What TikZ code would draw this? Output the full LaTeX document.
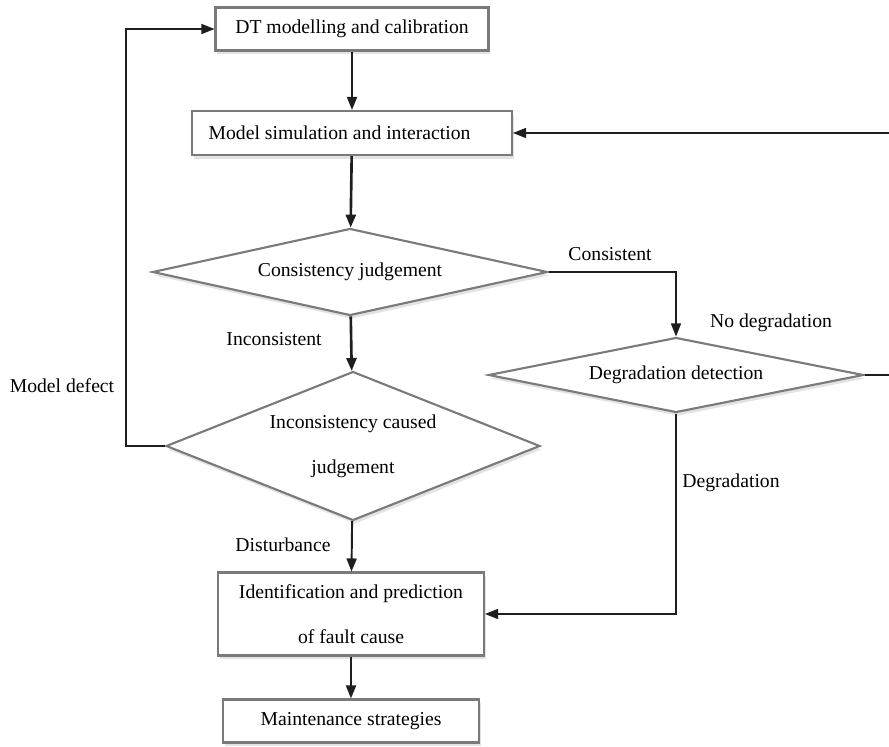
\documentclass[tikz,border=0pt]{standalone}
\usepackage{fontspec}
\setmainfont{Liberation Serif}
\usetikzlibrary{arrows.meta,shapes.geometric,shadows}
\definecolor{EdgeClr}{RGB}{122,122,122}
\definecolor{LineClr}{RGB}{30,30,30}

\tikzset{
  flowbox/.style={draw=EdgeClr,line width=1.2pt,fill=white,rectangle,inner sep=0pt,
    font=\fontsize{11.2}{25.5}\selectfont,align=center,
    drop shadow={opacity=0.22,shadow xshift=1pt,shadow yshift=-2pt}},
  judge/.style={flowbox,diamond},
  flowline/.style={draw=LineClr,line width=0.8pt,-{Triangle[length=2.6mm,width=2mm]}},
  flowlabel/.style={font=\fontsize{11.2}{13}\selectfont,inner sep=0pt}
}

\begin{document}
\begin{tikzpicture}[x=0.02cm,y=-0.02cm]
\useasboundingbox[fill=white] (0,0) rectangle (889,747);

% boxes
\node[flowbox,minimum width=5.46cm,minimum height=0.86cm] (dtm) at (352,29) {DT modelling and calibration};
\node[flowbox,minimum width=6.4cm,minimum height=0.88cm] (sim) at (352,133) {Model simulation and interaction\hspace*{0.5cm}};
\node[flowbox,minimum width=5.32cm,minimum height=1.66cm] (ident) at (351,614) {Identification and prediction\\of fault cause};
\node[flowbox,minimum width=5.12cm,minimum height=0.86cm] (maint) at (351,721) {Maintenance strategies};

% judgements
\node[judge,aspect=4.54,minimum width=7.9cm,minimum height=1.74cm] (cons) at (350,272) {Consistency judgement};
\node[judge,aspect=2.51,minimum width=7.48cm,minimum height=2.98cm] (inc) at (353,446) {Inconsistency caused\\judgement};
\node[judge,aspect=5,minimum width=7.5cm,minimum height=1.5cm] (deg) at (676,375) {Degradation detection};

% loop points
\coordinate (back) at (126,446);
\coordinate (ret) at (893,375);

% connectors
\draw[flowline,line width=1.1pt] (dtm) -- (sim);
\draw[flowline,line width=1.5pt] (sim) -- (cons);
\draw[flowline,line width=1.5pt] (cons) -- (inc);
\draw[flowline] (cons.east) -| (deg.north);
\draw[flowline] (deg.east) -- (ret) |- (sim.east);
\draw[flowline] (deg.south) |- (ident.east);
\draw[flowline] (inc.west) -- (back) |- (dtm.west);
\draw[flowline,line width=1.1pt] (inc) -- (ident);
\draw[flowline,line width=1.1pt] (ident) -- (maint);

% labels
\node[flowlabel] (lcons) at (610,254) {Consistent};
\node[flowlabel] (lnodeg) at (771,323) {No degradation};
\node[flowlabel] (lincons) at (274,339) {Inconsistent};
\node[flowlabel] (ldefect) at (62,386) {Model defect};
\node[flowlabel] (ldeg) at (731,483) {Degradation};
\node[flowlabel] (ldist) at (283,545) {Disturbance};

\end{tikzpicture}
\end{document}
